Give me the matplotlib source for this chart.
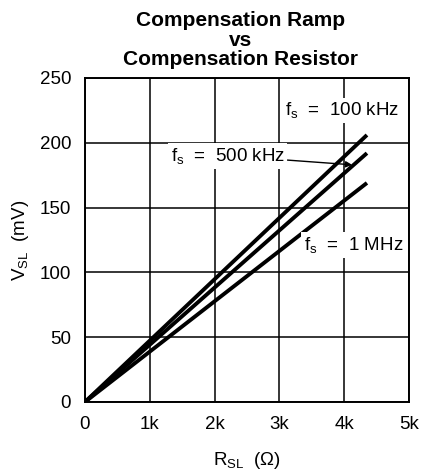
import matplotlib
matplotlib.use('Agg')
from matplotlib import pyplot as plt

plt.rcParams['font.family'] = ['Liberation Sans', 'DejaVu Sans']
plt.rcParams['mathtext.fontset'] = 'custom'
plt.rcParams['mathtext.rm'] = 'Liberation Sans'

# 数据 (R_SL in kOhm, V_SL in mV)
r_sl = [0, 4.35]
v_100k = [0, 206]
v_500k = [0, 192]
v_1m = [0, 169]
x_ticks = [0, 1, 2, 3, 4, 5]
x_labels = ['0', '1k', '2k', '3k', '4k', '5k']
y_ticks = [0, 50, 100, 150, 200, 250]

fig = plt.figure(figsize=(4.22, 4.74), dpi=100)
ax = fig.add_axes([0.2014, 0.152, 0.768, 0.6835])

ax.plot(r_sl, v_100k, color='black', lw=2.8, solid_capstyle='butt')
ax.plot(r_sl, v_500k, color='black', lw=2.8, solid_capstyle='butt')
ax.plot(r_sl, v_1m, color='black', lw=2.8, solid_capstyle='butt')

ax.set_xlim(0, 5)
ax.set_ylim(0, 250)
ax.set_xticks(x_ticks, x_labels)
ax.set_yticks(y_ticks)
ax.tick_params(length=0, labelsize=13.5, pad=10)
ax.grid(True, color='black', lw=1.1)
ax.set_axisbelow(True)
for s in ax.spines.values():
    s.set_linewidth(1.4)

ax.set_xlabel(r'$\mathregular{R_{SL}}$  (Ω)', fontsize=13.5, labelpad=12)
ax.set_ylabel(r'$\mathregular{V_{SL}}$  (mV)', fontsize=13.5, labelpad=6)

box = dict(facecolor='white', edgecolor='none', pad=2)
ax.text(3.97, 225, r'$\mathregular{f_s}$  =  100 kHz', ha='center', va='center',
        fontsize=13.5, bbox=box)
ax.text(4.14, 121, r'$\mathregular{f_s}$  =  1 MHz', ha='center', va='center',
        fontsize=13.5, bbox=box)
ax.annotate(r'$\mathregular{f_s}$  =  500 kHz', xy=(4.12, 183), xytext=(2.2, 190),
            ha='center', va='center', fontsize=13.5, bbox=box,
            arrowprops=dict(arrowstyle='-|>', color='black', lw=1.0,
                            mutation_scale=9, shrinkA=0, shrinkB=0))

fig.text(0.57, 0.957, 'Compensation Ramp', ha='center', va='center',
         fontsize=15, fontweight='bold')
fig.text(0.57, 0.915, 'vs', ha='center', va='center',
         fontsize=15, fontweight='bold')
fig.text(0.57, 0.875, 'Compensation Resistor', ha='center', va='center',
         fontsize=15, fontweight='bold')

fig.savefig('out.png', dpi=100)
